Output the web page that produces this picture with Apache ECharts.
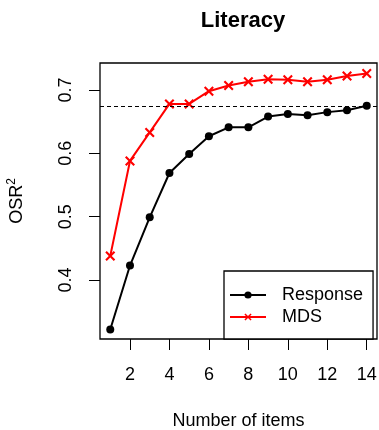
<!DOCTYPE html>
<html>
<head>
<meta charset="utf-8">
<script src="https://cdn.jsdelivr.net/npm/echarts@6/dist/echarts.min.js"></script>
<style>
html,body{margin:0;padding:0;background:#fff;}
#chart{width:379px;height:430px;}
</style>
</head>
<body>
<div id="chart"></div>
<script>
const items = [1,2,3,4,5,6,7,8,9,10,11,12,13,14];
const responseValues = [0.322,0.423,0.499,0.569,0.599,0.627,0.641,0.641,0.658,0.662,0.660,0.665,0.668,0.675];
const mdsValues = [0.438,0.588,0.633,0.678,0.678,0.698,0.707,0.713,0.717,0.716,0.713,0.716,0.722,0.726];
const xTicks = [2,4,6,8,10,12,14];
const yTicks = [0.4,0.5,0.6,0.7];
const referenceLine = 0.675;

const FONT = "'Liberation Sans', Arial, Helvetica, sans-serif";
const crossPath = 'path://M1.5,0L5,3.5L8.5,0L10,1.5L6.5,5L10,8.5L8.5,10L5,6.5L1.5,10L0,8.5L3.5,5L0,1.5Z';

const chart = echarts.init(document.getElementById('chart'), null, {renderer: 'canvas'});
chart.setOption({
  animation: false,
  backgroundColor: '#fff',
  title: {
    text: 'Literacy',
    left: 238, top: 5,
    textAlign: 'center',
    textStyle: {fontFamily: FONT, fontSize: 22, fontWeight: 'bold', color: '#000'}
  },
  grid: {left: 100, right: 2, top: 63, bottom: 91, show: true, borderColor: '#000', borderWidth: 1.3,
    backgroundColor: 'transparent', containLabel: false, outerBoundsMode: 'none'},
  xAxis: {
    type: 'value', min: 0.48, max: 14.52,
    name: 'Number of items', nameLocation: 'middle', nameGap: 73,
    nameTextStyle: {fontFamily: FONT, fontSize: 18, color: '#000'},
    axisLine: {show: false},
    splitLine: {show: false},
    axisTick: {show: true, length: 11, customValues: xTicks, lineStyle: {color: '#000', width: 1}},
    axisLabel: {customValues: xTicks, margin: 27, fontFamily: FONT, fontSize: 18, color: '#000'}
  },
  yAxis: {
    type: 'value', min: 0.3071, max: 0.7425,
    name: '{a|OSR}{b|2}', nameLocation: 'middle', nameGap: 72, nameRotate: 90,
    nameTextStyle: {fontFamily: FONT, fontSize: 18, color: '#000',
      rich: {a: {fontFamily: FONT, fontSize: 18, color: '#000'}, b: {fontFamily: FONT, fontSize: 12, color: '#000', verticalAlign: 'top', padding: [0,0,10,0]}}},
    axisLine: {show: false},
    splitLine: {show: false},
    axisTick: {show: true, length: 11, customValues: yTicks, lineStyle: {color: '#000', width: 1}},
    axisLabel: {customValues: yTicks, rotate: 90, margin: 25, fontFamily: FONT, fontSize: 18, color: '#000'}
  },
  legend: {
    orient: 'vertical',
    left: 224, top: 271,
    padding: [15, 10, 13, 5],
    itemWidth: 36, itemHeight: 9, itemGap: 4,
    borderColor: '#000', borderWidth: 1.3, backgroundColor: '#fff',
    textStyle: {fontFamily: FONT, fontSize: 18, color: '#000', padding: [0,0,0,11], lineHeight: 18},
    data: ['Response', 'MDS']
  },
  series: [
    {
      name: 'Response', type: 'line',
      data: items.map((x, i) => [x, responseValues[i]]),
      symbol: 'circle', symbolSize: 8,
      itemStyle: {color: '#000'},
      lineStyle: {color: '#000', width: 2},
      markLine: {
        silent: true, symbol: 'none', precision: 4,
        label: {show: false},
        lineStyle: {color: '#000', width: 1, type: [4, 3]},
        data: [{yAxis: referenceLine}]
      }
    },
    {
      name: 'MDS', type: 'line',
      data: items.map((x, i) => [x, mdsValues[i]]),
      symbol: crossPath, symbolSize: 10,
      itemStyle: {color: '#ff0000'},
      lineStyle: {color: '#ff0000', width: 2}
    }
  ]
});
</script>
</body>
</html>
